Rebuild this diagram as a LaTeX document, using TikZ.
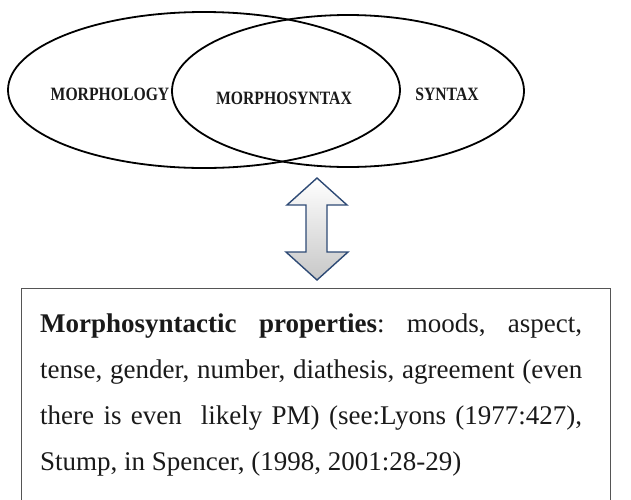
\documentclass[tikz,border=0pt]{standalone}
\usepackage{fontspec}
\setmainfont{Liberation Serif}
\usetikzlibrary{shapes.geometric}
\definecolor{arrowline}{HTML}{2E4A75}
\definecolor{boxline}{HTML}{555555}
\definecolor{textcol}{HTML}{1A1A1A}
\newcommand{\tallcaps}[1]{\scalebox{1}[1.2]{#1}}
\begin{document}
\frenchspacing
\begin{tikzpicture}[x=1pt,y=-1pt,
  venn/.style={ellipse, draw=black, line width=1.8pt, inner sep=0pt},
  vlabel/.style={font=\fontsize{15.7}{18}\selectfont\bfseries, inner sep=0pt, anchor=base, text=textcol},
  dblarrow/.style={draw=arrowline, line width=1.4pt, line join=miter, top color=white, bottom color=black!22},
  framebox/.style={draw=boxline, line width=1.4pt, inner sep=0pt, anchor=north west},
  bodytext/.style={font=\fontsize{27}{46}\selectfont, text=textcol, inner sep=0pt, anchor=base west, text width=542pt, align=justify}]
\useasboundingbox (0,0) rectangle (631,499);
\clip (0,0) rectangle (631,499);
% Venn ellipses
\node[venn, minimum width=392pt, minimum height=156pt] (morph) at (204,90) {};
\node[venn, minimum width=352pt, minimum height=152pt] (syn) at (348,91) {};
\node[vlabel] (lmorph) at (110,100) {\tallcaps{MORPHOLOGY}};
\node[vlabel] (lmsyn) at (284,104) {\tallcaps{MORPHOSYNTAX}};
\node[vlabel] (lsyn) at (447,100) {\tallcaps{SYNTAX}};
% double arrow
\coordinate (t) at (317,178);
\coordinate (b) at (317,280);
\draw[dblarrow] (t) -- (347,205) -- (327,205) -- (327,252) -- (348,252) -- (b)
  -- (286,252) -- (306,252) -- (306,205) -- (287,205) -- cycle;
% box
\node[framebox, minimum width=589pt, minimum height=240pt] (box) at (21,288) {};
\node[bodytext] (props) at (40,332) {\textbf{Morphosyntactic properties}: moods, aspect,\linebreak
tense, gender, number, diathesis, agreement (even\linebreak
there is even\ \ likely PM) (see:Lyons (1977:427),\linebreak
Stump, in Spencer, (1998, 2001:28-29)};
\end{tikzpicture}
\end{document}
